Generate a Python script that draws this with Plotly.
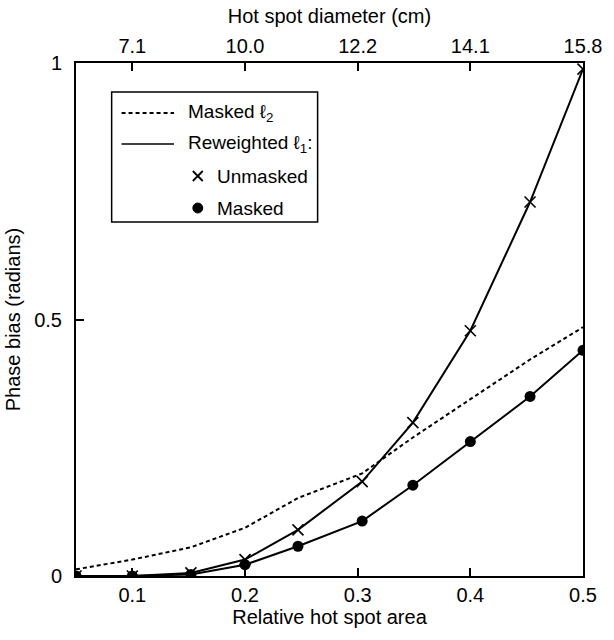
import plotly.graph_objects as go

# relative hot spot area (x) and phase bias (radians)
area = [0.05, 0.1, 0.152, 0.2, 0.247, 0.304, 0.349, 0.4, 0.453, 0.5]
masked_l2 = [0.013, 0.032, 0.056, 0.094, 0.152, 0.2, 0.27, 0.345, 0.422, 0.485]
rw_unmasked = [0.0, 0.0, 0.006, 0.032, 0.09, 0.184, 0.299, 0.478, 0.729, 0.988]
rw_masked = [0.0, 0.0, 0.003, 0.022, 0.058, 0.107, 0.177, 0.262, 0.35, 0.44]

bottom_ticks = [0.1, 0.2, 0.3, 0.4, 0.5]
top_ticklabels = ['7.1', '10.0', '12.2', '14.1', '15.8']
y_ticks = [0, 0.5, 1]

FONT = 'Liberation Sans'
L, R, T, B = 74, 586, 63, 576  # plot area in pixels


def px(x):
    return (x - L) / (R - L)


def py(y):
    return (B - y) / (B - T)


fig = go.Figure()

fig.add_trace(go.Scatter(
    x=area, y=masked_l2, mode='lines',
    line=dict(color='black', width=2, dash='4px,3px'),
    showlegend=False
))
fig.add_trace(go.Scatter(
    x=area, y=rw_unmasked, mode='lines+markers',
    line=dict(color='black', width=2),
    marker=dict(symbol='x-thin', size=11, line=dict(color='black', width=1.6)),
    showlegend=False
))
fig.add_trace(go.Scatter(
    x=area, y=rw_masked, mode='lines+markers',
    line=dict(color='black', width=2),
    marker=dict(symbol='circle', size=11, color='black'),
    showlegend=False
))
# dummy trace so the top axis gets drawn
fig.add_trace(go.Scatter(x=[None], y=[None], xaxis='x2', showlegend=False))

# hand-made legend, placed like the original
shapes = [
    dict(type='rect', xref='paper', yref='paper',
         x0=px(110), x1=px(318), y0=py(222), y1=py(92),
         line=dict(color='black', width=1.5), fillcolor='white', layer='above'),
    dict(type='line', xref='paper', yref='paper',
         x0=px(120), x1=px(173), y0=py(113), y1=py(113),
         line=dict(color='black', width=2, dash='4px,3px')),
    dict(type='line', xref='paper', yref='paper',
         x0=px(120), x1=px(173), y0=py(144), y1=py(144),
         line=dict(color='black', width=1.5)),
    dict(type='line', xref='paper', yref='paper',
         x0=px(192), x1=px(202), y0=py(171), y1=py(181),
         line=dict(color='black', width=1.8)),
    dict(type='line', xref='paper', yref='paper',
         x0=px(192), x1=px(202), y0=py(181), y1=py(171),
         line=dict(color='black', width=1.8)),
    dict(type='circle', xref='paper', yref='paper',
         x0=px(192), x1=px(202), y0=py(213), y1=py(203),
         line=dict(color='black', width=1), fillcolor='black'),
]
legend_text = [
    (185, 113, 'Masked ℓ<sub>2</sub>'),
    (185, 144, 'Reweighted ℓ<sub>1</sub>:'),
    (214, 176, 'Unmasked'),
    (214, 208, 'Masked'),
]
annotations = [
    dict(xref='paper', yref='paper', x=px(xx), y=py(yy), text=t,
         showarrow=False, xanchor='left', yanchor='middle',
         font=dict(family=FONT, size=19, color='black'))
    for xx, yy, t in legend_text
]

axis_common = dict(
    showline=True, linecolor='black', linewidth=2,
    ticks='inside', ticklen=8, tickwidth=1.5, tickcolor='black',
    showgrid=False, zeroline=False,
    tickfont=dict(family=FONT, size=20, color='black'),
)

fig.update_layout(
    width=614, height=640,
    margin=dict(l=L, r=614 - R, t=T, b=640 - B),
    plot_bgcolor='white', paper_bgcolor='white',
    font=dict(family=FONT, size=20, color='black'),
    xaxis=dict(
        range=[0.05, 0.5], tickvals=bottom_ticks,
        ticktext=[f'{v:.1f}' for v in bottom_ticks],
        title=dict(text='Relative hot spot area', standoff=0,
                   font=dict(family=FONT, size=20, color='black')),
        **axis_common
    ),
    xaxis2=dict(
        range=[0.05, 0.5], overlaying='x', side='top', anchor='y',
        tickvals=bottom_ticks, ticktext=top_ticklabels,
        title=dict(text='Hot spot diameter (cm)', standoff=6,
                   font=dict(family=FONT, size=20, color='black')),
        **axis_common
    ),
    yaxis=dict(
        range=[0, 1], tickvals=y_ticks, ticktext=['0', '0.5', '1'],
        mirror=True,
        title=dict(text='Phase bias (radians)', standoff=8,
                   font=dict(family=FONT, size=20, color='black')),
        ticklabelstandoff=8,
        **axis_common
    ),
    shapes=shapes,
    annotations=annotations,
)

# the page's default body margin would shift the figure by 8px
fig.write_html('out.html', config={'displayModeBar': False},
               post_script="document.body.style.margin='0';")
